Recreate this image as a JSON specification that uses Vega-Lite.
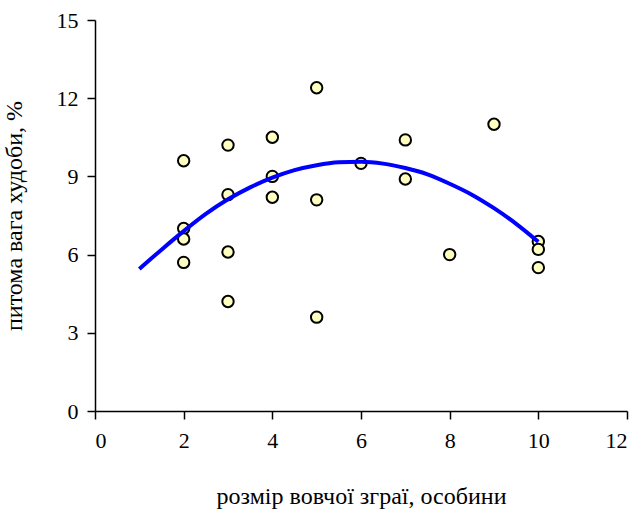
{
  "$schema": "https://vega.github.io/schema/vega-lite/v6.json",
  "autosize": "none",
  "width": 532,
  "height": 391,
  "padding": {"left": 95, "top": 20, "right": 14, "bottom": 100},
  "background": "white",
  "config": {
    "view": {"stroke": null},
    "font": "Liberation Serif",
    "axis": {
      "grid": false,
      "domainColor": "black",
      "domainWidth": 1.5,
      "tickColor": "black",
      "tickWidth": 1.5,
      "tickSize": 8,
      "labelFont": "Liberation Serif",
      "labelFontSize": 22,
      "labelColor": "black",
      "titleFont": "Liberation Serif",
      "titleFontSize": 24,
      "titleFontWeight": "normal",
      "titleColor": "black"
    }
  },
  "datasets": {
    "pts": [
      {"x": 2, "y": 9.6}, {"x": 2, "y": 7.0}, {"x": 2, "y": 6.6}, {"x": 2, "y": 5.7},
      {"x": 3, "y": 10.2}, {"x": 3, "y": 8.3}, {"x": 3, "y": 6.1}, {"x": 3, "y": 4.2},
      {"x": 4, "y": 10.5}, {"x": 4, "y": 9.0}, {"x": 4, "y": 8.2},
      {"x": 5, "y": 12.4}, {"x": 5, "y": 8.1}, {"x": 5, "y": 3.6},
      {"x": 6, "y": 9.5},
      {"x": 7, "y": 10.4}, {"x": 7, "y": 8.9},
      {"x": 8, "y": 6.0},
      {"x": 9, "y": 11.0},
      {"x": 10, "y": 6.5}, {"x": 10, "y": 6.2}, {"x": 10, "y": 5.5}
    ],
    "trend": [
      {"x": 1, "y": 5.45}, {"x": 1.5, "y": 6.19}, {"x": 2, "y": 6.9}, {"x": 2.5, "y": 7.56},
      {"x": 3, "y": 8.12}, {"x": 3.5, "y": 8.58}, {"x": 4, "y": 8.95}, {"x": 4.5, "y": 9.24},
      {"x": 5, "y": 9.43}, {"x": 5.5, "y": 9.54}, {"x": 6, "y": 9.56}, {"x": 6.5, "y": 9.49},
      {"x": 7, "y": 9.32}, {"x": 7.5, "y": 9.08}, {"x": 8, "y": 8.72}, {"x": 8.5, "y": 8.3},
      {"x": 9, "y": 7.78}, {"x": 9.5, "y": 7.18}, {"x": 10, "y": 6.49}
    ]
  },
  "layer": [
    {
      "data": {"name": "pts"},
      "mark": {"type": "point", "shape": "circle", "filled": true, "fill": "#FFFFC0", "stroke": "black", "strokeWidth": 2, "size": 130, "opacity": 1},
      "encoding": {
        "x": {"field": "x", "type": "quantitative", "scale": {"domain": [0, 12], "nice": false, "zero": true},
              "axis": {"values": [0, 2, 4, 6, 8, 10, 12], "title": "розмір вовчої зграї, особини", "labelPadding": 11, "titlePadding": 33}},
        "y": {"field": "y", "type": "quantitative", "scale": {"domain": [0, 15], "nice": false},
              "axis": {"values": [0, 3, 6, 9, 12, 15], "title": "питома вага худоби, %", "labelPadding": 9, "titlePadding": 30}}
      }
    },
    {
      "data": {"name": "trend"},
      "mark": {"type": "line", "color": "#0000FF", "strokeWidth": 4, "interpolate": "monotone"},
      "encoding": {
        "x": {"field": "x", "type": "quantitative"},
        "y": {"field": "y", "type": "quantitative"}
      }
    }
  ]
}
